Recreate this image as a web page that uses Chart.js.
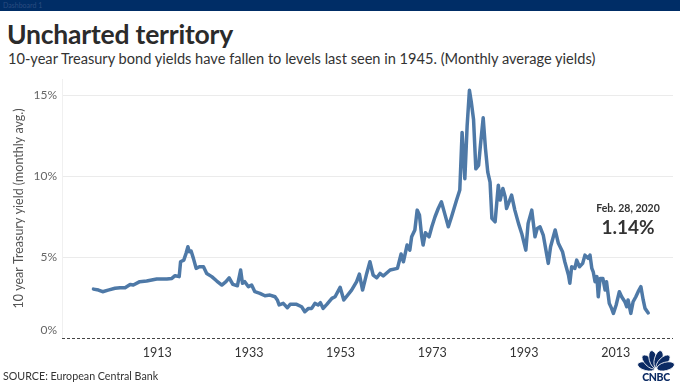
<!DOCTYPE html>
<html>
<head>
<meta charset="utf-8">
<script src="https://cdn.jsdelivr.net/npm/chart.js@4"></script>
<style>
  html, body { margin:0; padding:0; background:#fff; }
  body { width:680px; height:382px; overflow:hidden; position:relative; font-family: Lato, "Open Sans", sans-serif; color:#333; }
  #bar { position:absolute; left:0; top:0; width:680px; height:11px; background:#002d66; }
  #bar span { position:absolute; left:3px; top:1px; font-size:7px; color:#2a4c80; line-height:8px; }
  #title { position:absolute; left:7px; top:19px; font-size:26.5px; font-weight:700; color:#2b2b2b; line-height:30px; white-space:nowrap; letter-spacing:-0.2px; }
  #subtitle { position:absolute; left:8px; top:50px; font-size:14.6px; color:#333; line-height:18px; white-space:nowrap; }
  #wrap { position:absolute; left:0; top:0; width:680px; height:382px; }
  #note { position:absolute; left:578px; top:201px; width:100px; text-align:center; color:#333; }
  #note .d { font-size:10.5px; font-weight:700; line-height:14px; }
  #note .v { font-size:19px; font-weight:700; line-height:24px; }
  #source { position:absolute; left:3px; top:369px; font-size:10.7px; color:#333; line-height:13px; white-space:nowrap; }
  #logo { position:absolute; left:632px; top:347px; width:48px; height:35px; }
</style>
</head>
<body>
<div id="bar"><span>Dashboard 1</span></div>
<div id="title">Uncharted territory</div>
<div id="subtitle">10-year Treasury bond yields have fallen to levels last seen in 1945. (Monthly average yields)</div>
<div id="wrap"><canvas id="c" width="680" height="382"></canvas></div>
<div id="note"><div class="d">Feb. 28, 2020</div><div class="v">1.14%</div></div>
<div id="source">SOURCE: European Central Bank</div>
<svg id="logo" viewBox="0 0 48 35">
  <g fill="#0b2a63" stroke="#fff" stroke-width="0.8">
    <ellipse cx="24" cy="12" rx="4.2" ry="9" transform="rotate(-75 24 22)"/>
    <ellipse cx="24" cy="12" rx="4.2" ry="9" transform="rotate(-45 24 22)"/>
    <ellipse cx="24" cy="12" rx="4.2" ry="9" transform="rotate(-15 24 22)"/>
    <ellipse cx="24" cy="12" rx="4.2" ry="9" transform="rotate(15 24 22)"/>
    <ellipse cx="24" cy="12" rx="4.2" ry="9" transform="rotate(45 24 22)"/>
    <ellipse cx="24" cy="12" rx="4.2" ry="9" transform="rotate(75 24 22)"/>
  </g>
  <text x="24" y="33.5" text-anchor="middle" font-family="Lato, sans-serif" font-weight="900" font-size="10.5" fill="#0b2a63" letter-spacing="-0.3">CNBC</text>
</svg>
<script>
// ---- data ----
const years = [
  1899.1,1900.2,1901.1,1902.3,1903.8,1904.9,1906.0,1907.1,1907.8,1909.2,
  1910.7,1912.9,1915.1,1916.2,1916.9,1917.8,1918.1,1918.8,1919.3,1919.7,
  1920.0,1920.4,1920.9,1921.5,1922.2,1923.1,1923.8,1924.9,1926.0,1927.1,
  1928.0,1928.7,1929.5,1930.5,1931.2,1931.6,1932.1,1932.9,1933.6,1934.3,
  1935.4,1936.5,1937.6,1938.7,1939.2,1939.6,1940.5,1941.4,1942.0,1943.4,
  1944.5,1945.2,1946.0,1946.7,1947.4,1948.1,1948.6,1949.2,1950.0,1951.1,
  1951.8,1952.9,1953.7,1955.4,1956.5,1957.1,1957.8,1958.7,1959.4,1960.1,
  1960.9,1961.6,1962.3,1963.8,1965.4,1966.2,1966.7,1967.5,1968.1,1968.5,
  1969.2,1969.7,1970.2,1970.7,1971.0,1971.5,1972.3,1972.9,1973.6,1974.3,
  1975.0,1975.8,1976.5,1977.2,1978.3,1979.0,1979.5,1980.1,1980.6,1981.1,
  1981.5,1982.0,1982.5,1983.1,1983.5,1984.1,1984.6,1985.1,1985.6,1986.0,
  1986.7,1987.4,1987.8,1988.4,1988.9,1989.2,1990.3,1991.0,1991.8,1992.5,
  1993.4,1993.9,1994.7,1995.4,1995.9,1996.5,1997.2,1998.3,1998.8,1999.8,
  2000.5,2001.4,2001.9,2002.7,2003.0,2003.4,2004.1,2004.5,2005.1,2005.8,
  2006.3,2007.0,2007.4,2007.8,2008.1,2008.5,2008.9,2009.2,2009.6,2010.2,
  2010.7,2011.0,2011.6,2012.1,2012.5,2013.1,2013.8,2014.3,2015.0,2015.4,
  2015.7,2016.3,2016.8,2017.4,2017.9,2018.5,2019.0,2019.4,2020.1
];
const yields = [
  3.02,2.96,2.86,2.96,3.07,3.11,3.11,3.31,3.27,3.48,
  3.52,3.64,3.64,3.68,3.85,3.79,4.71,4.81,5.23,5.64,
  5.33,5.37,4.92,4.30,4.40,4.40,3.99,3.79,3.52,3.27,
  3.48,3.72,3.31,3.23,4.20,3.38,3.48,3.17,3.27,2.86,
  2.76,2.61,2.65,2.55,2.35,2.04,2.14,1.87,2.08,2.08,
  1.93,1.62,1.83,1.83,2.14,2.04,2.18,1.83,2.08,2.45,
  2.55,3.13,2.35,2.96,3.48,3.95,2.96,3.99,4.71,3.89,
  3.72,3.99,3.83,4.20,4.30,5.19,4.71,5.74,5.43,6.25,
  6.67,7.90,7.60,6.25,5.74,6.50,6.25,6.87,7.49,8.00,
  8.41,7.59,6.87,7.49,8.52,9.14,12.70,9.84,13.10,15.30,
  14.60,13.50,10.45,10.66,11.90,13.60,11.70,10.25,9.63,7.39,
  7.18,9.44,8.52,9.24,8.72,8.00,8.83,7.90,7.08,6.46,
  5.43,7.08,7.90,6.25,6.77,6.87,6.36,4.61,5.64,6.67,
  5.85,5.33,4.71,3.89,3.38,4.40,4.30,4.81,4.40,4.61,
  5.12,4.92,5.12,4.30,4.09,3.48,3.79,2.55,3.68,3.68,
  2.96,3.48,2.14,1.83,1.52,2.04,2.86,2.55,2.24,1.93,
  2.35,1.52,2.24,2.55,2.86,3.17,2.35,1.83,1.55
];
const yTickValues = [0, 5, 10, 15];
const xTickValues = [1913, 1933, 1953, 1973, 1993, 2013];

Chart.defaults.font.family = 'Lato, "Open Sans", sans-serif';

const zeroLine = {
  id: 'zeroLine',
  beforeDatasetsDraw(chart) {
    const {ctx, chartArea, scales} = chart;
    const y = Math.round(scales.y.getPixelForValue(0)) + 0.5;
    ctx.save();
    ctx.strokeStyle = '#444';
    ctx.lineWidth = 1;
    ctx.setLineDash([3, 2]);
    ctx.beginPath();
    ctx.moveTo(chartArea.left, y);
    ctx.lineTo(chartArea.right, y);
    ctx.stroke();
    ctx.restore();
  },
  afterDraw(chart) {
    const {ctx, scales} = chart;
    const y = scales.y.getPixelForValue(0);
    ctx.save();
    ctx.font = '12px Lato, "Open Sans", sans-serif';
    ctx.fillStyle = '#666';
    ctx.textAlign = 'right';
    ctx.textBaseline = 'middle';
    ctx.fillText('0%', scales.y.right - 5, y - 8);
    ctx.restore();
  }
};

new Chart(document.getElementById('c'), {
  type: 'line',
  data: {
    datasets: [{
      data: years.map((yr, i) => ({x: yr, y: yields[i]})),
      borderColor: '#4e79a7',
      borderWidth: 3.5,
      pointRadius: 0,
      tension: 0,
      borderJoinStyle: 'round',
      borderCapStyle: 'round'
    }]
  },
  options: {
    responsive: false,
    animation: false,
    layout: { padding: { top: 79, right: 7, bottom: 14, left: 0 } },
    plugins: { legend: { display: false }, tooltip: { enabled: false } },
    scales: {
      x: {
        type: 'linear',
        min: 1892.24,
        max: 2025.5,
        afterBuildTicks: s => { s.ticks = xTickValues.map(v => ({value: v})); },
        afterFit: s => { s.height = 30; },
        grid: { display: false, drawTicks: false },
        border: { display: false },
        ticks: {
          callback: v => String(v),
          color: '#333',
          font: { size: 12.5 },
          padding: 7,
          maxRotation: 0,
          autoSkip: false
        }
      },
      y: {
        min: 0,
        max: 16,
        afterBuildTicks: s => { s.ticks = yTickValues.map(v => ({value: v})); },
        afterFit: s => { s.width = 62; },
        grid: {
          drawTicks: false,
          color: c => (c.tick && c.tick.value === 0) ? 'rgba(0,0,0,0)' : '#ebebeb'
        },
        border: { display: true, color: '#f0f0f0' },
        ticks: {
          callback: v => v === 0 ? '' : v + '%',
          color: '#666',
          font: { size: 12 },
          padding: 5
        },
        title: {
          display: true,
          text: '10 year Treasury yield (monthly avg.)',
          color: '#555',
          font: { size: 12.5 },
          padding: { top: 11, bottom: 0 }
        }
      }
    }
  },
  plugins: [zeroLine]
});
</script>
</body>
</html>
